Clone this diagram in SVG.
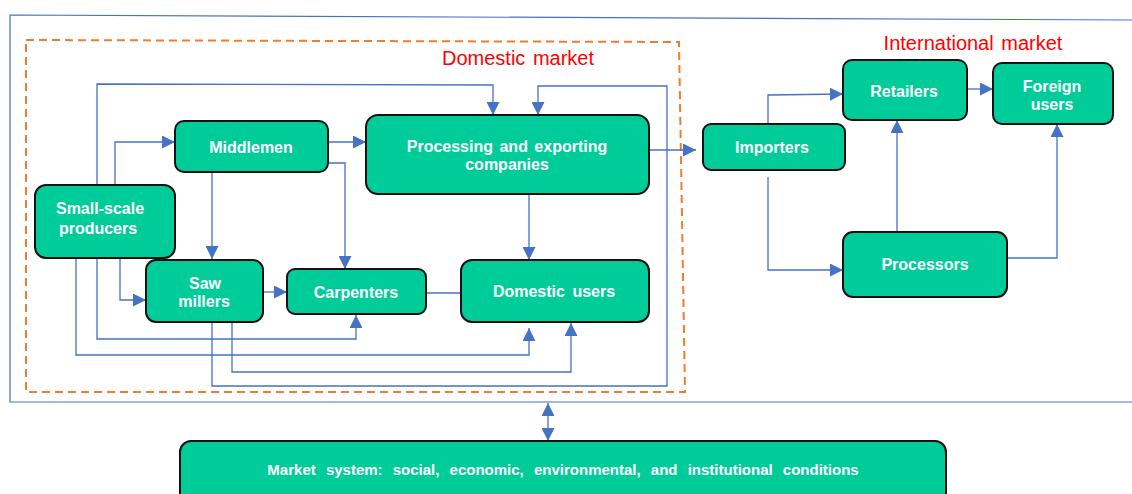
<svg xmlns="http://www.w3.org/2000/svg" width="1132" height="494" viewBox="0 0 1132 494">
<style>
.node rect{fill:#00CC99;stroke:#111;stroke-width:2}
.node text{fill:#fff;font-family:"Liberation Sans",Arial,sans-serif;font-weight:bold;font-size:16px;text-anchor:middle}
.conn path{fill:none;stroke:#4472C4;stroke-width:1.3}
.lbl{fill:#FF0000;font-family:"Liberation Sans",Arial,sans-serif;font-size:20px;text-anchor:middle}
</style>
<defs>
<marker id="ah" viewBox="0 0 10 10" refX="10" refY="5" markerWidth="13" markerHeight="13" markerUnits="userSpaceOnUse" orient="auto-start-reverse">
<path d="M0,0 L10,5 L0,10 z" fill="#4472C4"/>
</marker>
</defs>
<rect width="1132" height="494" fill="#fff"/>
<g id="frames">
<path d="M1132,20 L10,15 L10,402 L1132,402" fill="none" stroke="#4472C4" stroke-width="1.2"/>
<path d="M26,40 L679,42 L685,392 L26,392 Z" fill="none" stroke="#ED7D31" stroke-width="2" stroke-dasharray="8,5"/>
<text class="lbl" x="518" y="65" style="word-spacing:2px">Domestic market</text>
<text class="lbl" x="973" y="50" style="word-spacing:2px">International market</text>
</g>
<g class="conn" id="connectors">
<path d="M115,185 L115,142 L175,142" marker-end="url(#ah)"/>
<path d="M97,185 L97,84 L493,85 L493,115" marker-end="url(#ah)"/>
<path d="M328,142 L366,142" marker-end="url(#ah)"/>
<path d="M328,163 L345,163 L345,269" marker-end="url(#ah)"/>
<path d="M212,172 L212,259" marker-end="url(#ah)"/>
<path d="M529,194 L529,260" marker-end="url(#ah)"/>
<path d="M212,322 L212,386 L667,386 L667,86 L538,86 L538,115" marker-end="url(#ah)"/>
<path d="M649,150 L696,150" marker-end="url(#ah)"/>
<path d="M120,258 L120,300 L146,300" marker-end="url(#ah)"/>
<path d="M97,258 L97,339 L356,339 L356,315" marker-end="url(#ah)"/>
<path d="M76,258 L76,355 L529,355 L529,328" marker-end="url(#ah)"/>
<path d="M232,322 L232,372 L571,372 L571,323" marker-end="url(#ah)"/>
<path d="M263,292 L287,292" marker-end="url(#ah)"/>
<path d="M426,293 L461,293"/>
<path d="M768,124 L768,95 L843,94" marker-end="url(#ah)"/>
<path d="M768,177 L768,270 L843,270" marker-end="url(#ah)"/>
<path d="M967,89 L993,89" marker-end="url(#ah)"/>
<path d="M897,232 L897,120" marker-end="url(#ah)"/>
<path d="M1007,258 L1057,258 L1057,124" marker-end="url(#ah)"/>
<path d="M548,403 L548,441" marker-start="url(#ah)" marker-end="url(#ah)"/>
</g>
<g class="node" id="producers"><rect x="35" y="185" width="140" height="73" rx="11"/><text x="100" y="214">Small-scale</text><text x="98" y="234">producers</text></g>
<g class="node" id="middlemen"><rect x="175" y="121" width="153" height="51" rx="9"/><text x="251" y="153">Middlemen</text></g>
<g class="node" id="processing"><rect x="366" y="115" width="283" height="79" rx="12"/><text x="507" y="152" style="word-spacing:2px">Processing and exporting</text><text x="507" y="170">companies</text></g>
<g class="node" id="importers"><rect x="703" y="124" width="142" height="46" rx="8"/><text x="772" y="153">Importers</text></g>
<g class="node" id="retailers"><rect x="843" y="60" width="124" height="60" rx="9"/><text x="904" y="97">Retailers</text></g>
<g class="node" id="foreign"><rect x="993" y="63" width="120" height="61" rx="9"/><text x="1052" y="92">Foreign</text><text x="1052" y="110">users</text></g>
<g class="node" id="processors"><rect x="843" y="232" width="164" height="65" rx="10"/><text x="925" y="270">Processors</text></g>
<g class="node" id="sawmillers"><rect x="146" y="260" width="117" height="62" rx="10"/><text x="205" y="289">Saw</text><text x="204" y="307">millers</text></g>
<g class="node" id="carpenters"><rect x="287" y="269" width="139" height="45" rx="8"/><text x="356" y="298">Carpenters</text></g>
<g class="node" id="domestic"><rect x="461" y="260" width="188" height="62" rx="11"/><text x="554" y="297" style="word-spacing:3px">Domestic users</text></g>
<g class="node" id="marketsystem"><rect x="180" y="441" width="766" height="70" rx="11"/><text x="563" y="475" style="font-size:15px;word-spacing:6px">Market system: social, economic, environmental, and institutional conditions</text></g>
</svg>
